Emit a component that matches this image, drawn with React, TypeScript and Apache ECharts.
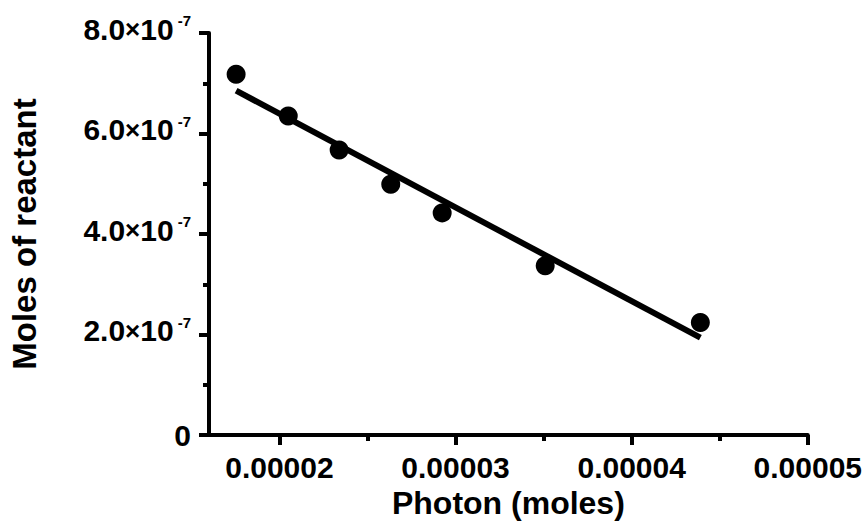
import React, { useEffect, useRef } from "react";
import * as echarts from "echarts";

const photonMoles = [1.754e-5, 2.05e-5, 2.339e-5, 2.632e-5, 2.924e-5, 3.509e-5, 4.39e-5];
const reactantMoles = [7.18e-7, 6.35e-7, 5.67e-7, 4.99e-7, 4.42e-7, 3.37e-7, 2.24e-7];
const fitX = [1.754e-5, 4.39e-5];
const fitY = [6.852e-7, 1.936e-7];
const xMajorTicks = [2e-5, 3e-5, 4e-5, 5e-5];
const xMinorTicks = [2.5e-5, 3.5e-5, 4.5e-5];
const xTitle = "Photon (moles)";
const yTitle = "Moles of reactant";

const FONT = '"Liberation Sans", Arial, sans-serif';

export default function App() {
  const ref = useRef<HTMLDivElement>(null);
  useEffect(() => {
    if (!ref.current) return;
    const chart = echarts.init(ref.current, undefined, { renderer: "svg" });
    const axisLine = { show: true, lineStyle: { color: "#000", width: 4 } };
    chart.setOption({
      animation: false,
      backgroundColor: "#fff",
      grid: { left: 206, top: 33, width: 604, height: 402, containLabel: false },
      xAxis: [
        {
          type: "value",
          min: 1.6e-5,
          max: 5e-5,
          axisLine: { ...axisLine, onZero: false },
          splitLine: { show: false },
          axisTick: {
            show: true,
            customValues: xMajorTicks,
            length: 10,
            lineStyle: { color: "#000", width: 4 },
          },
          axisLabel: {
            customValues: xMajorTicks,
            margin: 17,
            color: "#000",
            fontFamily: FONT,
            fontWeight: "bold",
            fontSize: 30,
            formatter: (v: number) => (v * 1).toFixed(5),
          },
          name: xTitle,
          nameLocation: "middle",
          nameGap: 47,
          nameTextStyle: { color: "#000", fontFamily: FONT, fontWeight: "bold", fontSize: 32 },
        },
        {
          type: "value",
          min: 1.6e-5,
          max: 5e-5,
          position: "bottom",
          axisLine: { show: false },
          splitLine: { show: false },
          axisTick: {
            show: true,
            customValues: xMinorTicks,
            length: 6,
            lineStyle: { color: "#000", width: 4 },
          },
          axisLabel: { show: false },
        },
      ],
      yAxis: {
        type: "value",
        min: 0,
        max: 8e-7,
        interval: 2e-7,
        axisLine: axisLine,
        splitLine: { show: false },
        axisTick: { show: true, length: 10, lineStyle: { color: "#000", width: 4 } },
        minorTick: { show: true, splitNumber: 2, length: 6, lineStyle: { color: "#000", width: 4 } },
        minorSplitLine: { show: false },
        axisLabel: {
          margin: 18,
          color: "#000",
          fontFamily: FONT,
          fontWeight: "bold",
          fontSize: 30,
          formatter: (v: number) => {
            if (Math.abs(v) < 1e-12) return "{b|0}";
            return `{b|${(v * 1e7).toFixed(1)}}{x|×}{b|10}{s|-7}\n{g|}`;
          },
          rich: {
            b: { fontFamily: FONT, fontWeight: "bold", fontSize: 30, color: "#000", lineHeight: 32 },
            x: { fontFamily: FONT, fontWeight: "bold", fontSize: 26, color: "#000", lineHeight: 32 },
            s: {
              fontFamily: FONT,
              fontWeight: "bold",
              fontSize: 15,
              color: "#000",
              lineHeight: 32,
              verticalAlign: "top",
              padding: [0, 0, 16, 4],
            },
            g: { fontSize: 8, lineHeight: 8 },
          },
        },
        name: yTitle,
        nameLocation: "middle",
        nameGap: 168,
        nameTextStyle: { color: "#000", fontFamily: FONT, fontWeight: "bold", fontSize: 33 },
      },
      series: [
        {
          type: "line",
          data: fitX.map((x, i) => [x, fitY[i]]),
          symbol: "none",
          lineStyle: { color: "#000", width: 6, cap: "butt" },
          silent: true,
          z: 2,
        },
        {
          type: "scatter",
          data: photonMoles.map((x, i) => [x, reactantMoles[i]]),
          symbol: "circle",
          symbolSize: 19,
          itemStyle: { color: "#000", opacity: 1 },
          z: 3,
        },
      ],
    });
    return () => chart.dispose();
  }, []);
  return <div ref={ref} style={{ width: 865, height: 532, position: "absolute", left: 0, top: 0 }} />;
}
